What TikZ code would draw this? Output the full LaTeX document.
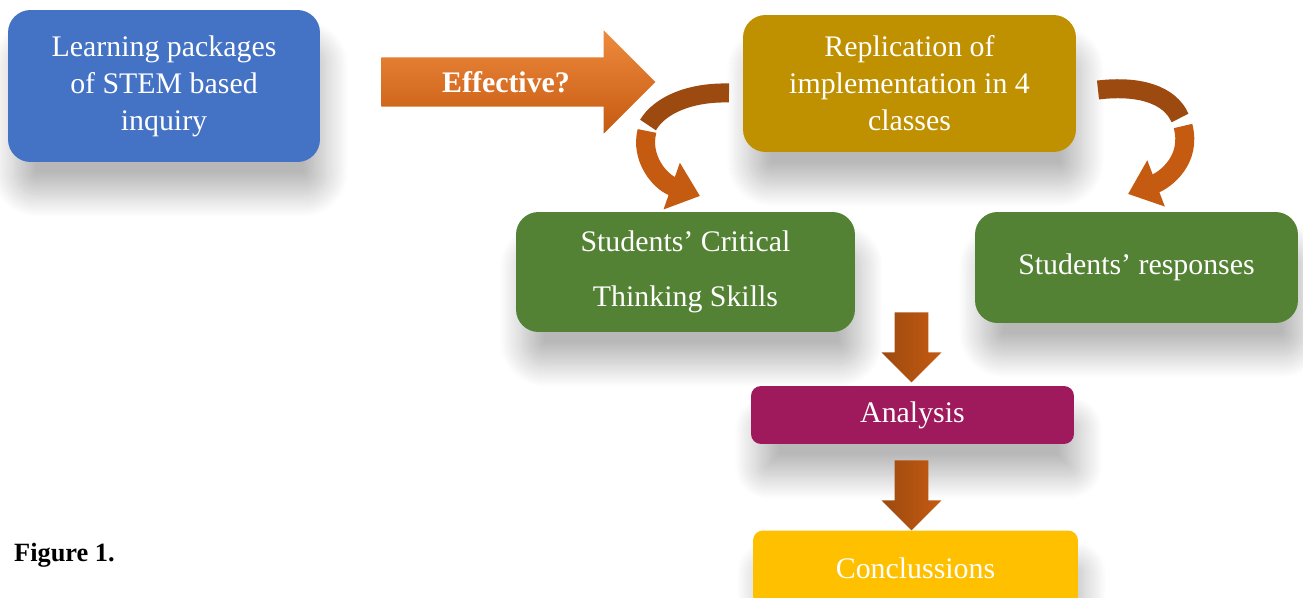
\documentclass[tikz,border=0pt]{standalone}
\usepackage{fontspec}
\setmainfont{Liberation Serif}
\usetikzlibrary{arrows.meta,positioning,shapes.arrows,shadows.blur}

\definecolor{stemblue}{HTML}{4472C4}
\definecolor{replgold}{HTML}{BF9000}
\definecolor{skillgreen}{HTML}{548235}
\definecolor{anamagenta}{HTML}{9E1A5C}
\definecolor{conyellow}{HTML}{FFC000}
\definecolor{arrorange}{HTML}{C55A11}
\definecolor{arrbrown}{HTML}{9C4A10}
\definecolor{arrlight}{HTML}{EE8A3E}

\begin{document}
\begin{tikzpicture}[x=0.02cm,y=-0.02cm,
  font=\fontsize{17}{21}\selectfont,
  box/.style={rounded corners=0.45cm,align=center,text=white,inner sep=0pt,
    blur shadow={shadow xshift=0.12cm,shadow yshift=-0.65cm,shadow blur radius=0.45cm,
      shadow opacity=28,shadow blur steps=24}},
  slim/.style={box,rounded corners=0.2cm},
  fatarrow/.style={single arrow,single arrow tip angle=90,inner xsep=0pt,text=white},
  downarrow/.style={fatarrow,rotate=-90,anchor=tail,inner ysep=0.33cm,minimum height=1.4cm,
    single arrow head extend=0.26cm,left color=arrbrown,right color=arrorange},
  curvearrow/.style={line width=0.38cm,draw=arrorange},
  >={Triangle[width=0.95cm,length=0.6cm]}]
\useasboundingbox (0,0) rectangle (1303,598);

% boxes
\node[box,fill=stemblue,minimum width=6.24cm,minimum height=3.04cm] (pkg) at (164,86) {Learning packages\\of STEM based\\inquiry};
\node[box,fill=replgold,minimum width=6.66cm,minimum height=2.74cm] (repl) at (909.5,83.5) {Replication of\\implementation in 4\\classes};
\node[box,fill=skillgreen,minimum width=6.78cm,minimum height=2.4cm,font=\fontsize{17}{31}\selectfont] (skill) at (685.5,272) {Students’ Critical\\Thinking Skills};
\node[box,fill=skillgreen,minimum width=6.46cm,minimum height=2.22cm] (resp) at (1136.5,267.5) {Students’ responses};
\node[slim,fill=anamagenta,minimum width=6.46cm,minimum height=1.16cm] (ana) at (912.5,415) {Analysis};
\node[slim,fill=conyellow,minimum width=6.5cm,minimum height=1.5cm] (conc) at (915.5,568) {Conclussions};

% block arrows
\node[fatarrow,anchor=tail,inner ysep=0.27cm,minimum height=5.48cm,single arrow head extend=0.54cm,
  top color=arrlight,bottom color=arrorange,font=\fontsize{17}{21}\selectfont\bfseries] (eff) at (381,82) {Effective?};
\node[downarrow] (down1) at (911.5,312) {};
\node[downarrow] (down2) at (911.5,460) {};

% curved arrows
\coordinate (la) at (729,93);
\coordinate (lb) at (648,125);
\coordinate (lc) at (647,131);
\coordinate (ld) at (700,196);
\coordinate (ra) at (1098,90);
\coordinate (rb) at (1180,118);
\coordinate (rc) at (1183,126);
\coordinate (rd) at (1128,194);
\draw[curvearrow,draw=arrbrown] (la) .. controls (690,92) and (660,105) .. (lb);
\draw[curvearrow,->] (lc) .. controls (640,158) and (660,182) .. (ld);
\draw[curvearrow,draw=arrbrown] (ra) .. controls (1140,85) and (1170,95) .. (rb);
\draw[curvearrow,->] (rc) .. controls (1192,160) and (1165,180) .. (rd);

\node[anchor=west,font=\fontsize{15}{18}\selectfont\bfseries] (fig) at (8,555) {Figure 1.};
\end{tikzpicture}
\end{document}
